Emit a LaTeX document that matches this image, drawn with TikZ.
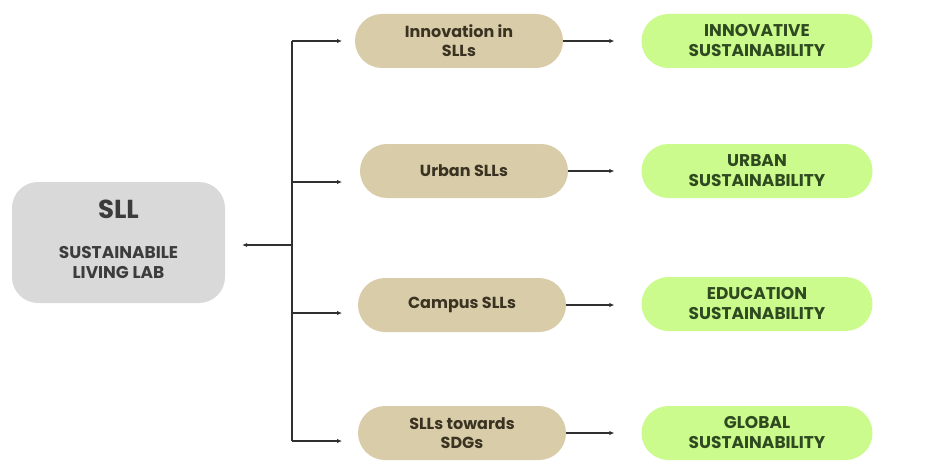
\documentclass[tikz,border=0pt]{standalone}
\usepackage{fontspec}
\setmainfont{Poppins}
\usetikzlibrary{arrows.meta}
\definecolor{sllgray}{HTML}{D9D9D9}
\definecolor{sllText}{HTML}{3C3C3C}
\definecolor{tanfill}{HTML}{D8CCA9}
\definecolor{tanText}{HTML}{3A3322}
\definecolor{greenfill}{HTML}{CBFB8C}
\definecolor{greenText}{HTML}{2F4A20}
\definecolor{lineCol}{HTML}{303030}
\tikzset{
  x=1pt, y=-1pt,
  midbox/.style={draw=none, fill=tanfill, rounded corners=27pt, minimum width=208pt, minimum height=54pt, align=center, font=\bfseries\fontsize{16}{19}\selectfont, text=tanText, inner sep=0pt},
  goalbox/.style={draw=none, fill=greenfill, rounded corners=27pt, minimum width=231pt, minimum height=54pt, align=center, font=\bfseries\fontsize{17}{20}\selectfont, text=greenText, inner sep=0pt},
  arr/.style={draw=lineCol, line width=1.3pt, -{Latex[length=5pt,width=4.5pt]}},
  trunkline/.style={draw=lineCol, line width=1.3pt}
}
\begin{document}
\begin{tikzpicture}
\fill[white] (0,0) rectangle (939,468);
\useasboundingbox (0,0) rectangle (939,468);
\node[draw=none, fill=sllgray, rounded corners=26pt, minimum width=213pt, minimum height=121pt, inner sep=0pt] (sll) at (118.5,242.5) {};
\node[text=sllText, font=\bfseries\fontsize{26}{30}\selectfont, inner sep=0pt] (slltitle) at (118.5,209) {SLL};
\node[text=sllText, font=\bfseries\fontsize{17}{20}\selectfont, align=center, inner sep=0pt] (sllsub) at (118.5,262) {SUSTAINABILE\\LIVING LAB};
\node[midbox] (m1) at (459,41) {Innovation in\\SLLs};
\node[midbox] (m2) at (464,171) {Urban SLLs};
\node[midbox] (m3) at (462,305) {Campus SLLs};
\node[midbox] (m4) at (462,433) {SLLs towards\\SDGs};
\node[goalbox] (r1) at (757,41) {INNOVATIVE\\SUSTAINABILITY};
\node[goalbox] (r2) at (757,171) {URBAN\\SUSTAINABILITY};
\node[goalbox] (r3) at (757,304) {EDUCATION\\SUSTAINABILITY};
\node[goalbox] (r4) at (757,433) {GLOBAL\\SUSTAINABILITY};
\coordinate (j1) at (292,41);
\coordinate (j2) at (292,182);
\coordinate (j3) at (292,313);
\coordinate (j4) at (292,441);
\coordinate (j0) at (292,245);
\draw[trunkline] (j1) -- (j4);
\draw[arr, shorten >=17pt] (j0) -- (j0 -| sll.east);
\draw[arr] (j1) -- (342,41);
\draw[arr] (j2) -- (342,182);
\draw[arr] (j3) -- (342,313);
\draw[arr] (j4) -- (342,441);
\draw[arr, shorten >=27pt] (m1.east) -- (m1.east -| r1.west);
\draw[arr, shorten >=27pt] (m2.east) -- (m2.east -| r2.west);
\draw[arr, shorten >=27pt] (m3.east) -- (m3.east -| r3.west);
\draw[arr, shorten >=27pt] (m4.east) -- (m4.east -| r4.west);
\end{tikzpicture}
\end{document}
